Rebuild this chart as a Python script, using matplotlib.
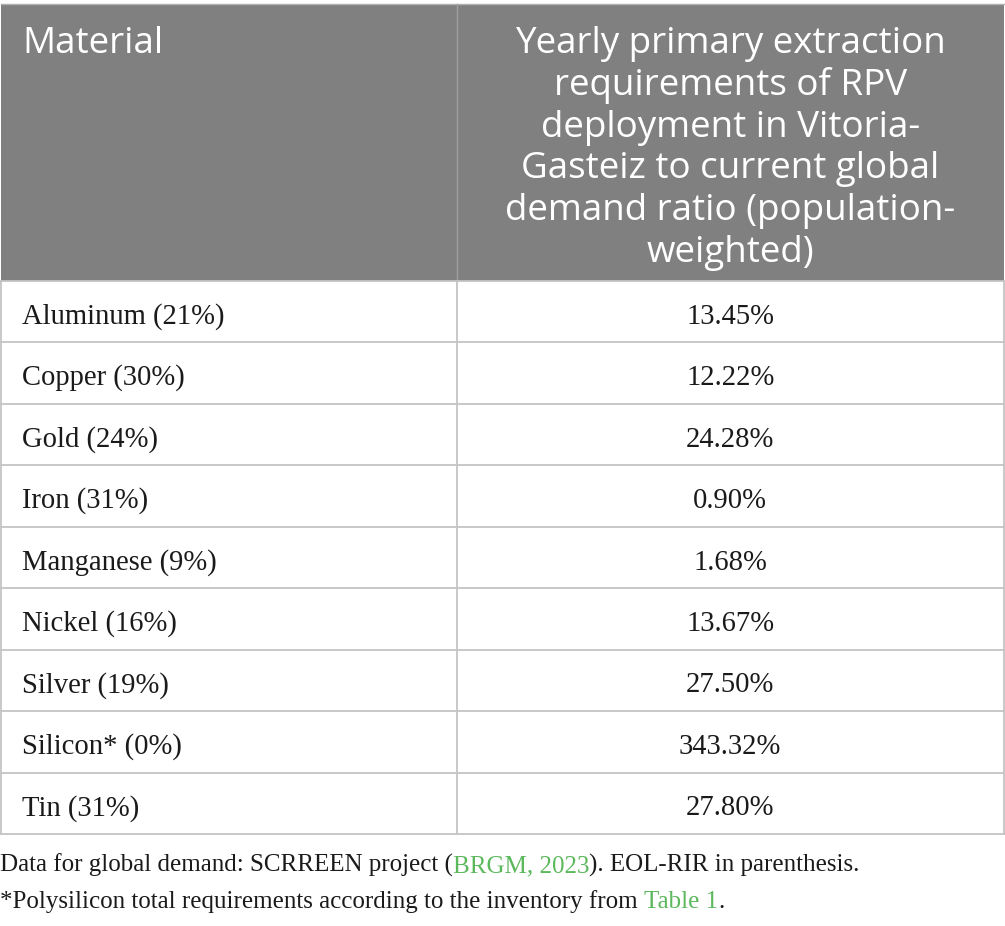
import matplotlib
matplotlib.use("Agg")
import matplotlib.pyplot as plt
from matplotlib.patches import Rectangle

# table content
materials = ["Aluminum", "Copper", "Gold", "Iron", "Manganese",
             "Nickel", "Silver", "Silicon*", "Tin"]
eol_rir = ["21%", "30%", "24%", "31%", "9%", "16%", "19%", "0%", "31%"]
ratios = ["13.45%", "12.22%", "24.28%", "0.90%", "1.68%",
          "13.67%", "27.50%", "343.32%", "27.80%"]
header_left = "Material"
header_right = ["Yearly primary extraction", "requirements of RPV",
                "deployment in Vitoria-", "Gasteiz to current global",
                "demand ratio (population-", "weighted)"]
note_1 = [("Data for global demand: SCRREEN project (", "black"),
          ("BRGM, 2023", "green"),
          ("). EOL-RIR in parenthesis.", "black")]
note_2 = [("*Polysilicon total requirements according to the inventory from ", "black"),
          ("Table 1", "green"),
          (".", "black")]

W, H = 1005, 926
HEAD_BG = "#7f807f"
GRID = "#c4c4c4"
LINK = "#5cb85c"
INK = "#1a1a1a"
SANS = "Open Sans"
SERIF = "Liberation Serif"

fig = plt.figure(figsize=(W / 100, H / 100), dpi=100)
ax = fig.add_axes([0, 0, 1, 1])
ax.set_xlim(0, W)
ax.set_ylim(H, 0)
ax.axis("off")

x0, xmid, x1 = 0.5, 457, 1003.5
y_top, y_head = 4, 281
row_h = (834 - y_head) / len(materials)
y_bot = y_head + row_h * len(materials)

# header block
ax.add_patch(Rectangle((x0, y_top), x1 - x0, y_head - y_top,
                       facecolor=HEAD_BG, edgecolor="none"))
ax.plot([x0, x1], [y_top, y_top], color="#b0b0b0", lw=1)
ax.plot([xmid, xmid], [y_top, y_head], color="#a0a0a0", lw=1)
ax.text(22, 53, header_left, fontsize=26.5, family=SANS, color="white",
        va="baseline", ha="left")
for i, line in enumerate(header_right):
    ax.text((xmid + x1) / 2, 53 + i * 41.8, line, fontsize=26.5, family=SANS,
            color="white", va="baseline", ha="center")

# body grid
for i in range(len(materials) + 1):
    y = y_head + i * row_h
    ax.plot([x0, x1], [y, y], color=GRID, lw=1.3)
for x in (x0, xmid, x1):
    ax.plot([x, x], [y_head, y_bot], color=GRID, lw=1.3)

for i, (mat, eol, val) in enumerate(zip(materials, eol_rir, ratios)):
    yb = y_head + (i + 0.5) * row_h + 12
    ax.text(22, yb, f"{mat} ({eol})", fontsize=20.6, family=SERIF,
            color=INK, va="baseline", ha="left")
    ax.text((xmid + x1) / 2, yb, val, fontsize=20.6, family=SERIF,
            color=INK, va="baseline", ha="center")

# footnotes with coloured link segments
fig.canvas.draw()
renderer = fig.canvas.get_renderer()
inv = ax.transData.inverted()
for parts, yb in ((note_1, 872), (note_2, 908)):
    x = 0
    for txt, col in parts:
        t = ax.text(x, yb, txt, fontsize=18, family=SERIF,
                    color=LINK if col == "green" else INK,
                    va="baseline", ha="left")
        bb = t.get_window_extent(renderer)
        x = inv.transform((bb.x1, bb.y0))[0]

fig.savefig("out.png", dpi=100, facecolor="white")
